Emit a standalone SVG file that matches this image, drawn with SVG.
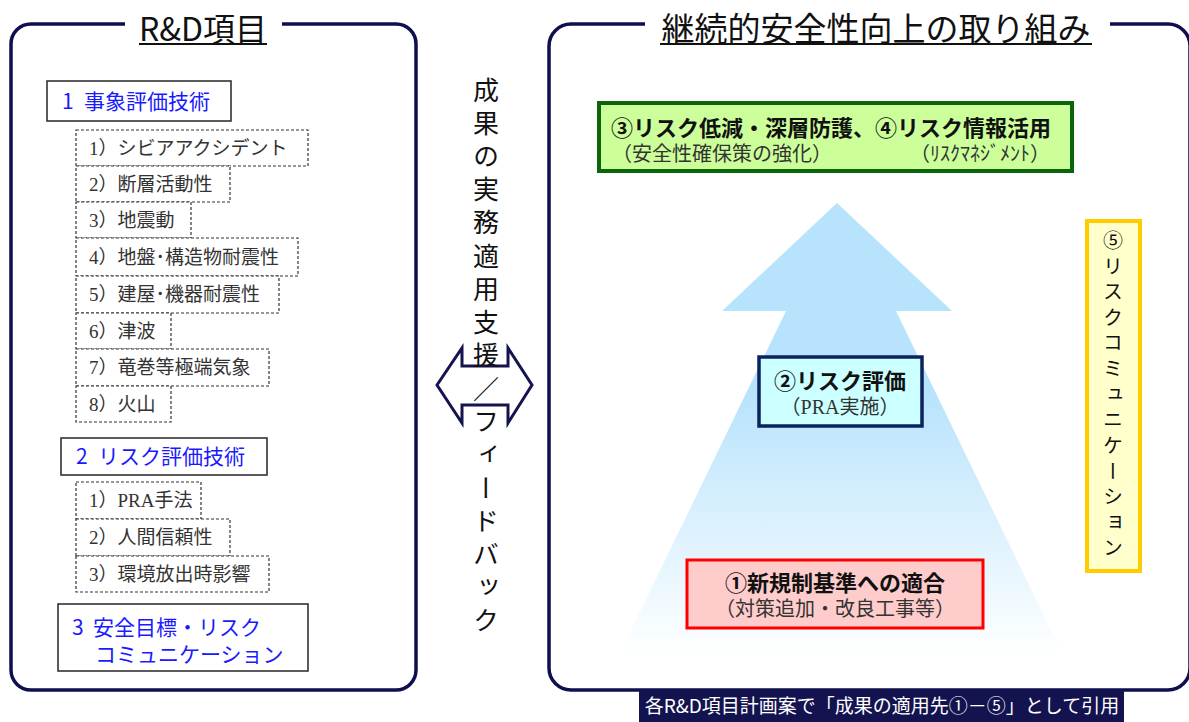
<svg xmlns="http://www.w3.org/2000/svg" width="1189" height="722" viewBox="0 0 1189 722">
<style>
.g{font-family:"Noto Sans CJK JP","Noto Sans",sans-serif}
.m{font-family:"Liberation Serif","Noto Sans CJK JP",serif;fill:#333}
.panel{fill:none;stroke:#0f0f4f;stroke-width:3.5}
.hd{fill:#fff;stroke:#333;stroke-width:1.6}
.sub{fill:#fff;stroke:#333;stroke-width:1.2;stroke-dasharray:3 2}
.blue{fill:#1a1aff;font-size:21px}
.it{font-size:19px}
.vt{font-size:26px;fill:#111;writing-mode:vertical-rl;text-orientation:upright}
.yt{font-size:20px;fill:#111;writing-mode:vertical-rl;text-orientation:upright}
.b{font-weight:bold;fill:#111}
</style>
<defs>
<linearGradient id="ag" gradientUnits="userSpaceOnUse" x1="0" y1="203" x2="0" y2="655">
<stop offset="0" stop-color="#b8e3fc"/>
<stop offset="0.42" stop-color="#b8e3fc"/>
<stop offset="1" stop-color="#ffffff"/>
</linearGradient>
</defs>
<rect width="1189" height="722" fill="#fff"/>

<g id="left-panel">
<path class="panel" d="M125,24 H31 A20,20 0 0 0 11,44 V670 A20,20 0 0 0 31,690 H396 A20,20 0 0 0 416,670 V44 A20,20 0 0 0 396,24 H282"/>
<text class="g" x="203" y="41" font-size="32" text-anchor="middle" fill="#111">R&amp;D項目</text>
<line x1="139" y1="44" x2="267" y2="44" stroke="#111" stroke-width="2"/>
</g>

<g id="item-1">
<rect class="hd" x="47" y="81" width="184" height="40"/>
<text class="g blue" x="62" y="109">1<tspan x="84">事象評価技術</tspan></text>
</g>
<g id="item-1-1"><rect class="sub" x="76" y="130" width="232" height="36"/><text class="m it" x="89" y="155">1）シビアアクシデント</text></g>
<g id="item-1-2"><rect class="sub" x="76" y="166" width="154" height="36"/><text class="m it" x="89" y="191">2）断層活動性</text></g>
<g id="item-1-3"><rect class="sub" x="76" y="202" width="115" height="36"/><text class="m it" x="89" y="227">3）地震動</text></g>
<g id="item-1-4"><rect class="sub" x="76" y="238" width="222" height="38"/><text class="m it" x="89" y="264">4）地盤･構造物耐震性</text></g>
<g id="item-1-5"><rect class="sub" x="76" y="276" width="203" height="37"/><text class="m it" x="89" y="301">5）建屋･機器耐震性</text></g>
<g id="item-1-6"><rect class="sub" x="76" y="313" width="95" height="36"/><text class="m it" x="89" y="338">6）津波</text></g>
<g id="item-1-7"><rect class="sub" x="76" y="349" width="193" height="37"/><text class="m it" x="89" y="374">7）竜巻等極端気象</text></g>
<g id="item-1-8"><rect class="sub" x="76" y="386" width="95" height="36"/><text class="m it" x="89" y="411">8）火山</text></g>

<g id="item-2">
<rect class="hd" x="61" y="438" width="206" height="37"/>
<text class="g blue" x="76" y="464">2<tspan x="98">リスク評価技術</tspan></text>
</g>
<g id="item-2-1"><rect class="sub" x="76" y="482" width="125" height="37"/><text class="m it" x="89" y="507">1）PRA手法</text></g>
<g id="item-2-2"><rect class="sub" x="76" y="519" width="154" height="37"/><text class="m it" x="89" y="544">2）人間信頼性</text></g>
<g id="item-2-3"><rect class="sub" x="76" y="556" width="193" height="36"/><text class="m it" x="89" y="581">3）環境放出時影響</text></g>

<g id="item-3">
<rect class="hd" x="58" y="604" width="250" height="67"/>
<text class="g blue" x="72" y="635">3<tspan x="93">安全目標・リスク</tspan></text>
<text class="g blue" x="95" y="662">コミュニケーション</text>
</g>

<g id="connectors">
<path d="M437,385 L462,348 V366 H508 V348 L532,385 L508,423 V405 H462 V423 Z" fill="none" stroke="#14144f" stroke-width="3" stroke-linejoin="miter"/>
</g>

<g id="middle-label" class="g">
<text class="vt" x="486" y="77">成</text>
<text class="vt" x="486" y="110">果</text>
<text class="vt" x="486" y="143">の</text>
<text class="vt" x="486" y="176">実</text>
<text class="vt" x="486" y="209">務</text>
<text class="vt" x="486" y="243">適</text>
<text class="vt" x="486" y="276">用</text>
<text class="vt" x="486" y="309">支</text>
<text class="vt" x="486" y="342">援</text>
<text class="g" x="486" y="399" font-size="26" fill="#111" text-anchor="middle">／</text>
<text class="vt" x="486" y="408">フ</text>
<text class="vt" x="486" y="441">ィ</text>
<text class="vt" x="486" y="475">ー</text>
<text class="vt" x="486" y="508">ド</text>
<text class="vt" x="486" y="541">バ</text>
<text class="vt" x="486" y="574">ッ</text>
<text class="vt" x="486" y="607">ク</text>
</g>

<g id="right-panel">
<path class="panel" d="M645,24 H571 A22,22 0 0 0 549,46 V668 A22,22 0 0 0 571,690 H1168 A22,22 0 0 0 1190,668 V46 A22,22 0 0 0 1168,24 H1110"/>
<text class="g" x="876" y="41" font-size="33" text-anchor="middle" fill="#111">継続的安全性向上の取り組み</text>
<line x1="660" y1="44" x2="1092" y2="44" stroke="#111" stroke-width="2"/>
</g>

<g id="arrow-up">
<path d="M837,203 L952,311 H896 L1063,655 H619 L786,311 H722 Z" fill="url(#ag)"/>
</g>

<g id="box-34">
<rect x="599" y="103" width="473" height="68" fill="#ccff99" stroke="#0b660b" stroke-width="4"/>
<text class="g b" x="611" y="136" font-size="22">③リスク低減・深層防護、④リスク情報活用</text>
<text class="m" x="612" y="161" font-size="20">（安全性確保策の強化）</text>
<text class="m" x="910" y="161" font-size="20">（ﾘｽｸﾏﾈｼﾞﾒﾝﾄ）</text>
</g>

<g id="box-2">
<rect x="759" y="357" width="163" height="69" fill="#ccffff" stroke="#0b2260" stroke-width="3.5"/>
<text class="g b" x="840" y="389" font-size="22" text-anchor="middle">②リスク評価</text>
<text class="m" x="840" y="414" font-size="20" text-anchor="middle">（PRA実施）</text>
</g>

<g id="box-1">
<rect x="687" y="560" width="296" height="68" fill="#ffcccc" stroke="#ff0000" stroke-width="3"/>
<text class="g b" x="835" y="591" font-size="22" text-anchor="middle">①新規制基準への適合</text>
<text class="m" x="835" y="616" font-size="20" text-anchor="middle">（対策追加・改良工事等）</text>
</g>

<g id="box-5" class="g">
<rect x="1087" y="221" width="53" height="350" fill="#ffffcc" stroke="#ffcc00" stroke-width="4"/>
<text class="yt" x="1113" y="230">⑤</text>
<text class="yt" x="1113" y="256">リ</text>
<text class="yt" x="1113" y="281">ス</text>
<text class="yt" x="1113" y="307">ク</text>
<text class="yt" x="1113" y="332">コ</text>
<text class="yt" x="1113" y="358">ミ</text>
<text class="yt" x="1113" y="384">ュ</text>
<text class="yt" x="1113" y="409">ニ</text>
<text class="yt" x="1113" y="435">ケ</text>
<text class="yt" x="1113" y="461">ー</text>
<text class="yt" x="1113" y="486">シ</text>
<text class="yt" x="1113" y="512">ョ</text>
<text class="yt" x="1113" y="537">ン</text>
</g>

<g id="note">
<rect x="639" y="690" width="485" height="32" fill="#13134f"/>
<text class="g" x="882" y="713" font-size="19" fill="#fff" text-anchor="middle">各R&amp;D項目計画案で「成果の適用先①－⑤」として引用</text>
</g>
</svg>
